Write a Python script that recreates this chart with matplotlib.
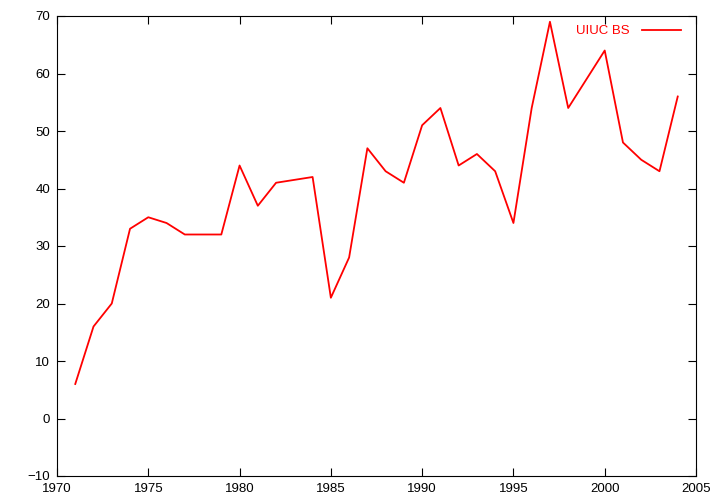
import numpy as np
import matplotlib
matplotlib.use("Agg")
import matplotlib.pyplot as plt

years = [1971, 1972, 1973, 1974, 1975, 1976, 1977, 1978, 1979, 1980,
         1981, 1982, 1984, 1985, 1986, 1987, 1988, 1989, 1990, 1991,
         1992, 1993, 1994, 1995, 1996, 1997, 1998, 2000, 2001, 2002,
         2003, 2004]
bs = [6, 16, 20, 33, 35, 34, 32, 32, 32, 44,
      37, 41, 42, 21, 28, 47, 43, 41, 51, 54,
      44, 46, 43, 34, 54, 69, 54, 64, 48, 45,
      43, 56]

xticks = [1970, 1975, 1980, 1985, 1990, 1995, 2000, 2005]
yticks = [-10, 0, 10, 20, 30, 40, 50, 60, 70]

plt.rcParams['font.family'] = ['Liberation Sans', 'DejaVu Sans']
fig = plt.figure(figsize=(7.2, 5.04), dpi=100)
ax = fig.add_axes([57/720, 1-476/504, (696-57)/720, (476-16)/504])

ax.plot(years, bs, color='#ff0000', lw=1.3, label='UIUC BS')

ax.set_xlim(1970, 2005)
ax.set_ylim(-10, 70)
ax.set_xticks(xticks)
ax.set_yticks(yticks)
ax.tick_params(direction='in', top=True, right=True, length=6, width=0.8,
               labelsize=9.5, pad=5)
for s in ax.spines.values():
    s.set_linewidth(0.8)

leg = ax.legend(loc='upper right', bbox_to_anchor=(1.0, 1.012), frameon=False,
                markerfirst=False, fontsize=9.5, handlelength=3.0,
                borderaxespad=0.8, borderpad=0.3, handletextpad=0.9)
for t in leg.get_texts():
    t.set_color('#ff0000')

plt.savefig('out.png', dpi=100)
